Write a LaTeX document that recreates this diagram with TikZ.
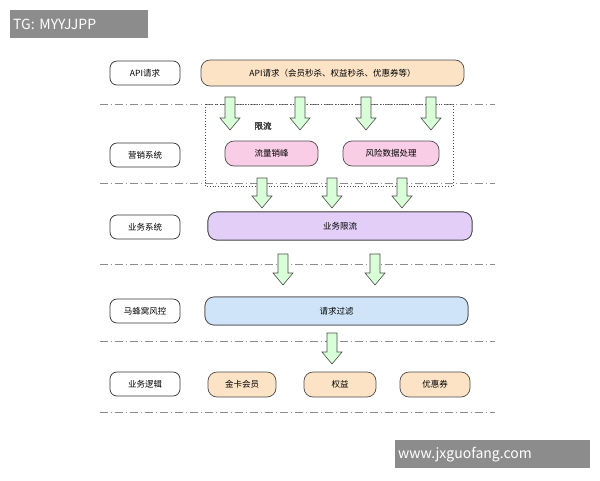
\documentclass[tikz,border=0pt]{standalone}
\usepackage{fontspec}
\setmainfont{Noto Sans CJK SC}
\begin{document}
\begin{tikzpicture}[x=1pt,y=-1pt,
 lbl/.style={draw=black!80,rounded corners=7pt,minimum width=70pt,minimum height=24pt,font=\fontsize{8.5}{9}\selectfont,line width=0.7pt},
 box/.style={draw=black!70,rounded corners=9pt,inner sep=0pt,font=\fontsize{8.5}{9}\selectfont,line width=0.7pt},
 sep/.style={draw=black!45,dash pattern=on 8pt off 3pt on 1pt off 3pt,line width=0.6pt},
 blk/.style={fill=green!15,draw=black!70,line width=0.6pt}]
\useasboundingbox (0,0) rectangle (600,480);
\definecolor{peach}{HTML}{FCE3C6}\definecolor{pinkf}{HTML}{F9CDE6}
\definecolor{lilac}{HTML}{E2CEF7}\definecolor{lblue}{HTML}{CFE4F8}
\newcommand{\barr}[3]{\filldraw[blk] (#1-5,#2) -- (#1+5,#2) -- (#1+5,#3-12) -- (#1+10,#3-12) -- (#1,#3) -- (#1-10,#3-12) -- (#1-5,#3-12) -- cycle;}
\node[fill=black!45,text=white,minimum width=138pt,minimum height=28pt,font=\fontsize{14}{16}\selectfont,anchor=north west,inner sep=0pt,text width=132pt,align=left] (tg) at (10,10) {TG: MYYJJPP};
\node[fill=black!45,text=white,minimum width=195pt,minimum height=28pt,font=\fontsize{14}{16}\selectfont,anchor=north west,inner sep=0pt,text width=189pt,align=left] (wm) at (395,440) {www.jxguofang.com};
\foreach \y in {104,183,264,341,412} \draw[sep] (100,\y) -- (495,\y);
\draw[dotted,line width=0.8pt,black!70] (205,104) rectangle (453,186);
\node[lbl] (l1) at (145,73) {API请求};
\node[lbl] (l2) at (145,155) {营销系统};
\node[lbl] (l3) at (145,227) {业务系统};
\node[lbl] (l4) at (145,311) {马蜂窝风控};
\node[lbl] (l5) at (145,384) {业务逻辑};
\node[box,fill=peach,minimum width=263pt,minimum height=26pt] (api) at (332.5,73) {API请求（会员秒杀、权益秒杀、优惠券等）};
\foreach \x in {230,300,366,431} \barr{\x}{97}{130}
\node[font=\fontsize{8.5}{9}\selectfont,text=black!75] (xl) at (263,126) {限流};
\node[box,fill=pinkf,minimum width=93pt,minimum height=25pt] (p1) at (271.5,153.5) {流量销峰};
\node[box,fill=pinkf,minimum width=96pt,minimum height=25pt] (p2) at (391,153.5) {风险数据处理};
\foreach \x in {262,332,402} \barr{\x}{178}{208}
\node[box,fill=lilac,minimum width=264pt,minimum height=28pt] (yw) at (340,226) {业务限流};
\foreach \x in {283,375} \barr{\x}{254}{285}
\node[box,fill=lblue,minimum width=263pt,minimum height=28pt] (qq) at (336.5,311) {请求过滤};
\barr{332}{333}{364}
\node[box,fill=peach,minimum width=68pt,minimum height=25pt] (b1) at (242,384.5) {金卡会员};
\node[box,fill=peach,minimum width=72pt,minimum height=25pt] (b2) at (340,384.5) {权益};
\node[box,fill=peach,minimum width=70pt,minimum height=25pt] (b3) at (435,384.5) {优惠券};
\end{tikzpicture}
\end{document}
